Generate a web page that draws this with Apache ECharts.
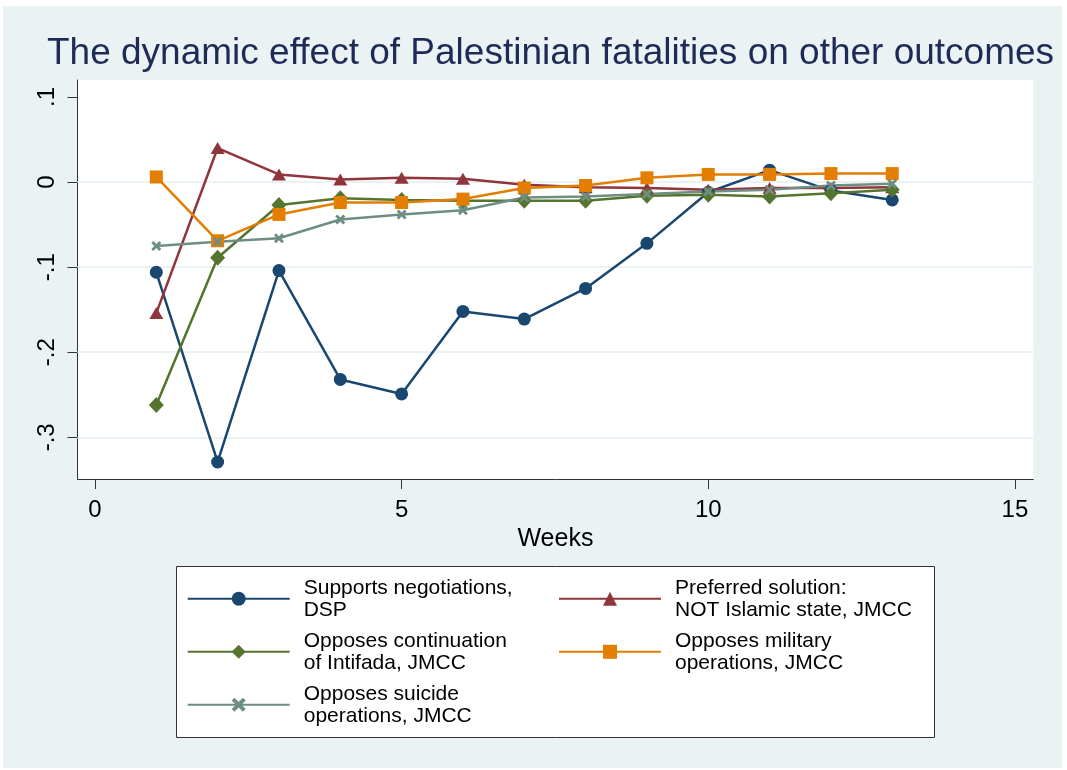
<!DOCTYPE html>
<html>
<head>
<meta charset="utf-8">
<script src="https://cdn.jsdelivr.net/npm/echarts@6/dist/echarts.min.js"></script>
<style>
html,body{margin:0;padding:0;background:#fff;}
#chart{width:1067px;height:770px;}
</style>
</head>
<body>
<div id="chart"></div>
<script>
// ---- data ----
const weeks = [1,2,3,4,5,6,7,8,9,10,11,12,13];
const supportsNegotiations = [-0.106,-0.329,-0.104,-0.232,-0.249,-0.152,-0.161,-0.125,-0.072,-0.012,0.014,-0.010,-0.021];
const notIslamicState      = [-0.154,0.040,0.009,0.003,0.005,0.004,-0.003,-0.006,-0.007,-0.009,-0.007,-0.007,-0.006];
const opposesIntifada      = [-0.262,-0.089,-0.027,-0.019,-0.021,-0.022,-0.022,-0.022,-0.016,-0.015,-0.017,-0.013,-0.009];
const opposesMilitary      = [0.006,-0.069,-0.038,-0.024,-0.024,-0.020,-0.007,-0.004,0.005,0.009,0.009,0.010,0.010];
const opposesSuicide       = [-0.075,-0.070,-0.066,-0.044,-0.038,-0.033,-0.018,-0.017,-0.014,-0.011,-0.009,-0.004,-0.002];

const seriesNames = [
  'Supports negotiations,\nDSP',
  'Preferred solution:\nNOT Islamic state, JMCC',
  'Opposes continuation\nof Intifada, JMCC',
  'Opposes military\noperations, JMCC',
  'Opposes suicide\noperations, JMCC'
];
const xTicks = [0,5,10,15];
const yTicks = [-0.3,-0.2,-0.1,0,0.1];
const yTickLabels = ['-.3','-.2','-.1','0','.1'];
const gridValues = [0,-0.1,-0.2,-0.3];
const titleText = 'The dynamic effect of Palestinian fatalities on other outcomes';
const xAxisTitle = 'Weeks';

// ---- styles ----
const FONT = '"Liberation Sans", Arial, sans-serif';
const colors = ['#1a476f','#90353b','#55752f','#e37e00','#6e8e84'];
const symbols = ['circle','triangle','diamond','rect',
  'path://M2,0 L5,3 L8,0 L10,2 L7,5 L10,8 L8,10 L5,7 L2,10 L0,8 L3,5 L0,2 Z'];
const symbolSizes = [13,[14,12],[15,16],13,10];
const seriesData = [supportsNegotiations, notIslamicState, opposesIntifada, opposesMilitary, opposesSuicide];

const chart = echarts.init(document.getElementById('chart'), null, {renderer:'canvas'});

const series = seriesData.map((vals, i) => ({
  name: seriesNames[i],
  type: 'line',
  data: weeks.map((w, j) => [w, vals[j]]),
  symbol: symbols[i],
  symbolSize: symbolSizes[i],
  showAllSymbol: true,
  color: colors[i],
  lineStyle: {width: 2.5, color: colors[i]},
  itemStyle: {color: colors[i]},
  animation: false,
  z: 3
}));
series[0].markLine = {
  silent: true,
  symbol: 'none',
  z: 1,
  label: {show: false},
  lineStyle: {color: '#eaf2f3', width: 2, type: 'solid'},
  data: gridValues.map(v => ({yAxis: v})),
  animation: false
};

const legendCommon = {
  orient: 'vertical',
  itemWidth: 102,
  itemHeight: 17.5,
  itemGap: 9,
  padding: 0,
  selectedMode: false,
  textStyle: {fontFamily: FONT, fontSize: 21, lineHeight: 22, color: '#000', padding: [0,0,0,9]}
};

chart.setOption({
  backgroundColor: '#ffffff',
  animation: false,
  graphic: [
    {type:'rect', shape:{x:3, y:6, width:1059, height:762}, style:{fill:'#eaf2f3'}, z:-10, silent:true},
    {type:'rect', shape:{x:176.5, y:566.5, width:758, height:171}, style:{fill:'#ffffff', stroke:'#333333', lineWidth:1}, z:0, silent:true}
  ],
  title: {
    text: titleText,
    left: 47,
    top: 35,
    padding: 0,
    textStyle: {fontFamily: FONT, fontSize: 37, fontWeight: 'normal', color: '#1e2b57'}
  },
  legend: [
    Object.assign({}, legendCommon, {left: 186.7, top: 576.8, data: [seriesNames[0], seriesNames[2], seriesNames[4]]}),
    Object.assign({}, legendCommon, {left: 558, top: 576.8, data: [seriesNames[1], seriesNames[3]]})
  ],
  grid: {
    left: 77.5, top: 80, width: 955.8, height: 399,
    show: true, backgroundColor: '#ffffff', borderWidth: 0,
    containLabel: false
  },
  xAxis: {
    type: 'value',
    min: -0.285, max: 15.30,
    name: xAxisTitle,
    nameLocation: 'middle',
    nameGap: 45,
    nameTextStyle: {fontFamily: FONT, fontSize: 25, color: '#000'},
    axisLine: {show: true, onZero: false, lineStyle: {color: '#333', width: 1}},
    axisTick: {show: true, customValues: xTicks, length: 10, inside: false, lineStyle: {color: '#333', width: 1}},
    axisLabel: {customValues: xTicks, margin: 19, fontFamily: FONT, fontSize: 24, color: '#000'},
    splitLine: {show: false}
  },
  yAxis: {
    type: 'value',
    min: -0.349, max: 0.12,
    axisLine: {show: true, onZero: false, lineStyle: {color: '#333', width: 1}},
    axisTick: {show: true, customValues: yTicks, length: 10, inside: false, lineStyle: {color: '#333', width: 1}},
    axisLabel: {
      customValues: yTicks, rotate: 90, margin: 18,
      fontFamily: FONT, fontSize: 24, color: '#000',
      formatter: function (v) {
        for (let k = 0; k < yTicks.length; k++) {
          if (Math.abs(yTicks[k] - v) < 1e-9) return yTickLabels[k];
        }
        return '';
      }
    },
    splitLine: {show: false}
  },
  series: series
});
</script>
</body>
</html>
